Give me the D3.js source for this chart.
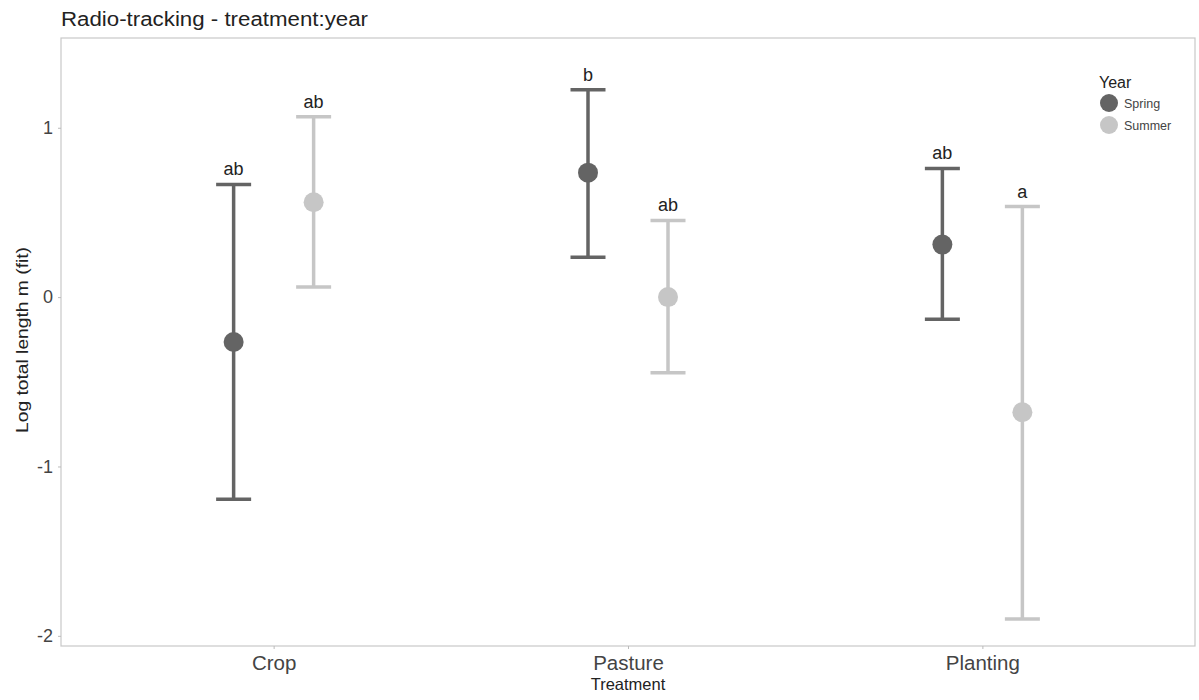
<!DOCTYPE html>
<html>
<head>
<meta charset="utf-8">
<script src="https://cdn.jsdelivr.net/npm/d3@7.9.0/dist/d3.min.js"></script>
<style>
  body { margin: 0; background: #fff; }
  text { font-family: "Liberation Sans", Arial, sans-serif; }
</style>
</head>
<body>
<svg id="chart" width="1199" height="700"></svg>
<script>
// Data
const treatments = ['Crop', 'Pasture', 'Planting'];
const seasons = ['Spring', 'Summer'];
const fitValues = {
  Spring: [-0.265, 0.735, 0.31],
  Summer: [0.56, 0.0, -0.68]
};
const upperValues = {
  Spring: [0.665, 1.224, 0.76],
  Summer: [1.065, 0.453, 0.535]
};
const lowerValues = {
  Spring: [-1.194, 0.235, -0.13],
  Summer: [0.06, -0.447, -1.9]
};
const letters = {
  Spring: ['ab', 'b', 'ab'],
  Summer: ['ab', 'ab', 'a']
};
const yTicks = [-2, -1, 0, 1];

const rows = [];
seasons.forEach(s => treatments.forEach((t, i) => rows.push({
  treatment: t, season: s,
  fit: fitValues[s][i], hi: upperValues[s][i], lo: lowerValues[s][i],
  letter: letters[s][i]
})));

const svg = d3.select('#chart');
const margin = { left: 61, right: 4, top: 38, bottom: 54 };
const W = 1199, H = 700;

const x = d3.scalePoint().domain(treatments)
  .range([margin.left, W - margin.right]).padding(0.6);
const dodge = d3.scalePoint().domain(seasons).range([-40, 40]);
const y = d3.scaleLinear().domain([-2.06, 1.53]).range([H - margin.bottom, margin.top]);
const color = d3.scaleOrdinal().domain(seasons).range(['#646464', '#c6c6c6']);

// title
svg.append('text').attr('x', 61).attr('y', 26)
  .attr('font-size', 20).attr('textLength', 307).attr('lengthAdjust', 'spacingAndGlyphs')
  .attr('fill', '#222').text('Radio-tracking - treatment:year');

// panel border
svg.append('rect')
  .attr('x', margin.left).attr('y', margin.top)
  .attr('width', W - margin.left - margin.right)
  .attr('height', H - margin.top - margin.bottom)
  .attr('fill', 'none').attr('stroke', '#c8c8c8').attr('stroke-width', 1.2);

// axes
const yAxis = svg.append('g').attr('transform', `translate(${margin.left},0)`)
  .call(d3.axisLeft(y).tickValues(yTicks).tickSize(3).tickPadding(5).tickFormat(d => String(d)));
yAxis.select('.domain').remove();
yAxis.selectAll('line').attr('stroke', '#bbb');
yAxis.selectAll('text').attr('font-size', 18).attr('fill', '#444')
  .attr('font-family', '"Liberation Sans", Arial, sans-serif');

const xAxis = svg.append('g').attr('transform', `translate(0,${H - margin.bottom})`)
  .call(d3.axisBottom(x).tickSize(3).tickPadding(6));
xAxis.select('.domain').remove();
xAxis.selectAll('line').attr('stroke', '#bbb');
xAxis.selectAll('text').attr('font-size', 20.5).attr('fill', '#444')
  .attr('font-family', '"Liberation Sans", Arial, sans-serif');

svg.append('text').attr('x', x('Pasture')).attr('y', 690)
  .attr('text-anchor', 'middle').attr('font-size', 16.5).attr('fill', '#222')
  .text('Treatment');
svg.append('text')
  .attr('transform', `translate(28,340) rotate(-90)`)
  .attr('text-anchor', 'middle').attr('font-size', 16)
  .attr('textLength', 186).attr('lengthAdjust', 'spacingAndGlyphs')
  .attr('fill', '#222')
  .text('Log total length m (fit)');

// error bars
const cx = d => x(d.treatment) + dodge(d.season);
const g = svg.append('g');
const bars = g.selectAll('g.bar').data(rows).join('g').attr('class', 'bar')
  .attr('stroke', d => color(d.season)).attr('stroke-width', 3.5);
bars.append('line').attr('x1', cx).attr('x2', cx)
  .attr('y1', d => y(d.hi)).attr('y2', d => y(d.lo));
bars.append('line').attr('x1', d => cx(d) - 17.5).attr('x2', d => cx(d) + 17.5)
  .attr('y1', d => y(d.hi)).attr('y2', d => y(d.hi));
bars.append('line').attr('x1', d => cx(d) - 17.5).attr('x2', d => cx(d) + 17.5)
  .attr('y1', d => y(d.lo)).attr('y2', d => y(d.lo));

g.selectAll('circle').data(rows).join('circle')
  .attr('cx', cx).attr('cy', d => y(d.fit)).attr('r', 10)
  .attr('fill', d => color(d.season));

g.selectAll('text.letter').data(rows).join('text').attr('class', 'letter')
  .attr('x', cx).attr('y', d => y(d.hi) - 9)
  .attr('text-anchor', 'middle').attr('font-size', 18).attr('fill', '#222')
  .text(d => d.letter);

// legend
const leg = svg.append('g').attr('transform', 'translate(1099,0)');
leg.append('text').attr('x', 0).attr('y', 88).attr('font-size', 16).attr('fill', '#222').text('Year');
const li = leg.selectAll('g.item').data(seasons).join('g').attr('class', 'item')
  .attr('transform', (d, i) => `translate(0,${103 + i * 22})`);
li.append('circle').attr('cx', 10).attr('cy', 0).attr('r', 9).attr('fill', d => color(d));
li.append('text').attr('x', 25).attr('y', 4.5).attr('font-size', 12.5).attr('fill', '#444').text(d => d);
</script>
</body>
</html>
